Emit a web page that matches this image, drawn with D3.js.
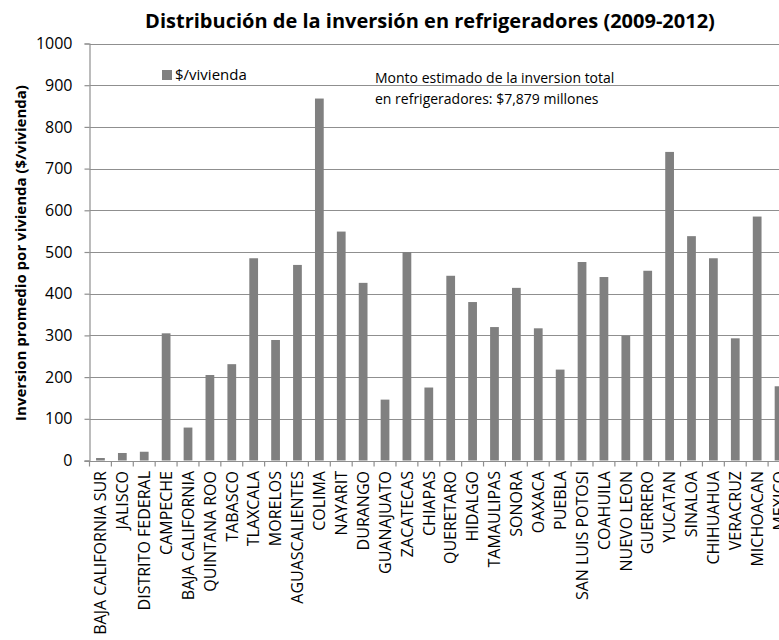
<!DOCTYPE html>
<html>
<head>
<meta charset="utf-8">
<script src="https://cdn.jsdelivr.net/npm/d3@7/dist/d3.min.js"></script>
<style>
  html, body { margin: 0; padding: 0; background: #fff; }
  svg { display: block; overflow: hidden; }
  text { font-family: "Open Sans", Lato, sans-serif; fill: #000; }
</style>
</head>
<body>
<svg id="chart" width="779" height="640"></svg>
<script>
// States, ordered as in the chart
const estados = [
  "BAJA CALIFORNIA SUR", "JALISCO", "DISTRITO FEDERAL", "CAMPECHE",
  "BAJA CALIFORNIA", "QUINTANA ROO", "TABASCO", "TLAXCALA", "MORELOS",
  "AGUASCALIENTES", "COLIMA", "NAYARIT", "DURANGO", "GUANAJUATO",
  "ZACATECAS", "CHIAPAS", "QUERETARO", "HIDALGO", "TAMAULIPAS", "SONORA",
  "OAXACA", "PUEBLA", "SAN LUIS POTOSI", "COAHUILA", "NUEVO LEON",
  "GUERRERO", "YUCATAN", "SINALOA", "CHIHUAHUA", "VERACRUZ", "MICHOACAN",
  "MEXICO"
];

// Average investment per dwelling ($/vivienda)
const inversionPorVivienda = [
  6, 18, 21, 305,
  79, 205, 231, 485, 289,
  469, 868, 549, 426, 146,
  500, 175, 443, 380, 320, 414,
  317, 218, 476, 440, 299,
  455, 740, 538, 485, 293, 585,
  178
];

const yTicks = [0, 100, 200, 300, 400, 500, 600, 700, 800, 900, 1000];

const titulo = "Distribución de la inversión en refrigeradores (2009-2012)";
const tituloEjeY = "Inversion promedio por vivienda ($/vivienda)";
const serieNombre = "$/vivienda";
const notaLineas = [
  "Monto  estimado de la inversion total",
  "en refrigeradores: $7,879 millones"
];

const svg = d3.select("#chart");

const plot = { left: 89.5, right: 790, top: 43.5, bottom: 460.5 };

const x = d3.scaleBand()
  .domain(estados)
  .range([plot.left, plot.right])
  .paddingInner(0.6)
  .paddingOuter(0.3);

const y = d3.scaleLinear()
  .domain([0, 1000])
  .range([plot.bottom, plot.top]);

const gridColor = "#8f8f8f";

// Horizontal gridlines
svg.append("g")
  .selectAll("line")
  .data(yTicks.filter(d => d > 0))
  .join("line")
  .attr("x1", plot.left)
  .attr("x2", 779)
  .attr("y1", d => Math.round(y(d)) + 0.5)
  .attr("y2", d => Math.round(y(d)) + 0.5)
  .attr("stroke", gridColor)
  .attr("stroke-width", 1.2);

// Bars
svg.append("g")
  .selectAll("rect")
  .data(estados)
  .join("rect")
  .attr("x", d => x(d))
  .attr("width", x.bandwidth())
  .attr("y", (d, i) => y(inversionPorVivienda[i]))
  .attr("height", (d, i) => y(0) - y(inversionPorVivienda[i]))
  .attr("fill", "#808080");

// Y axis
const yAxis = svg.append("g")
  .attr("transform", `translate(${plot.left},0)`)
  .call(d3.axisLeft(y)
    .tickValues(yTicks)
    .tickFormat(d3.format("d"))
    .tickSize(5)
    .tickPadding(12));
yAxis.select(".domain").attr("stroke", gridColor).attr("stroke-width", 1.2);
yAxis.selectAll(".tick line").attr("stroke", gridColor).attr("stroke-width", 1.2);
yAxis.selectAll(".tick text")
  .attr("font-family", "'Open Sans', Lato, sans-serif")
  .attr("font-size", 16)
  .attr("fill", "#000");

// X axis baseline and category separators
const xAxis = svg.append("g")
  .attr("transform", `translate(0,${Math.round(y(0)) + 0.5})`);
xAxis.append("line")
  .attr("x1", plot.left - 5).attr("x2", 779)
  .attr("stroke", gridColor).attr("stroke-width", 1.2);
const bordes = d3.range(estados.length + 1).map(i => plot.left + i * x.step());
xAxis.selectAll("line.sep")
  .data(bordes)
  .join("line")
  .attr("class", "sep")
  .attr("x1", d => d).attr("x2", d => d)
  .attr("y1", 0).attr("y2", 5)
  .attr("stroke", gridColor).attr("stroke-width", 1.2);

// Category labels, rotated
svg.append("g")
  .selectAll("text")
  .data(estados)
  .join("text")
  .attr("transform", d => `translate(${x(d) + x.bandwidth() / 2},471) rotate(-90)`)
  .attr("text-anchor", "end")
  .attr("dy", "0.36em")
  .attr("font-size", 16)
  .text(d => d);

// Title
svg.append("text")
  .attr("x", 430)
  .attr("y", 28)
  .attr("text-anchor", "middle")
  .attr("font-weight", "bold")
  .attr("font-size", 20)
  .text(titulo);

// Y axis title
svg.append("text")
  .attr("transform", "translate(21,253) rotate(-90)")
  .attr("text-anchor", "middle")
  .attr("dy", "0.36em")
  .attr("font-weight", "bold")
  .attr("font-size", 15)
  .text(tituloEjeY);

// Legend
const leyenda = svg.append("g").attr("transform", "translate(162,75)");
leyenda.append("rect")
  .attr("x", 0).attr("y", -5)
  .attr("width", 10).attr("height", 10)
  .attr("fill", "#808080");
leyenda.append("text")
  .attr("x", 13)
  .attr("y", 0)
  .attr("dy", "0.35em")
  .attr("font-size", 15)
  .text(serieNombre);

// Total investment note
svg.append("g")
  .selectAll("text")
  .data(notaLineas)
  .join("text")
  .attr("x", 375)
  .attr("y", (d, i) => 83 + i * 21)
  .attr("font-size", 14)
  .text(d => d);
</script>
</body>
</html>
